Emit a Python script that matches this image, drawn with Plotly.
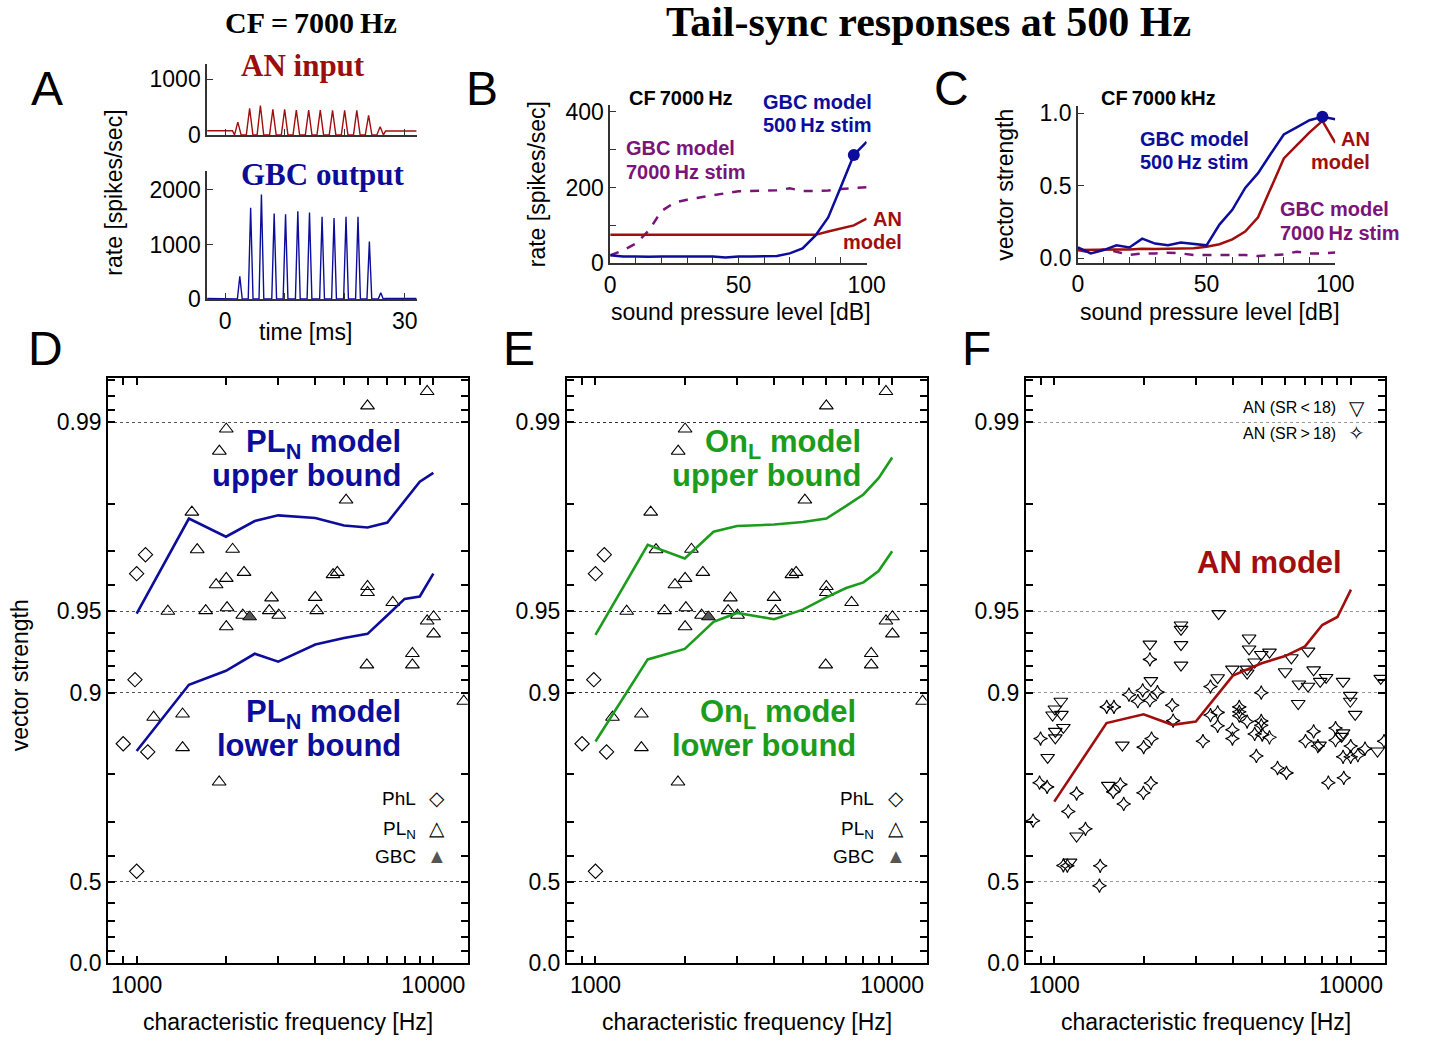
import numpy as np
import plotly.graph_objects as go

# page layout: the figure sits inside the default 8 px body margin of the html page
OX, OY = 8, 8
FW, FH = 1426, 1043
SANS = "Liberation Sans, Arial, Helvetica, sans-serif"
SERIF = "Liberation Serif, Times New Roman, serif"

RED = "#a10e0e"
BLUE = "#0d0d9c"
PURPLE = "#7a1478"
GREEN = "#1c9c1c"

# ---------------- Panel A: PSTHs, CF 7000 Hz, 500 Hz tone ----------------
time_ticks = [0, 10, 20, 30]
an_peak_t = [2.13, 4.1, 5.9, 7.98, 9.95, 11.9, 13.96, 15.9, 17.95, 19.97, 22.0, 23.97, 25.9]
an_peak_r = [230, 477, 530, 459, 459, 447, 447, 447, 441, 441, 441, 353, 147]
an_pre, an_post = 75, 70
gbc_peak_t = [2.46, 4.27, 6.07, 8.2, 10.1, 12.15, 14.1, 16.2, 18.2, 20.2, 22.2, 24.1, 26.0]
gbc_peak_r = [419, 1674, 1912, 1566, 1554, 1607, 1584, 1505, 1482, 1505, 1505, 1057, 120]
gbc_pre, gbc_post = 15, 15

# ---------------- Panel B / C: level functions ----------------
spl = [0, 5, 10, 15, 20, 25, 30, 35, 40, 45, 50, 55, 60, 65, 70, 75, 80, 85, 90, 95, 100]
rate_an = [75, 75, 75, 75, 75, 75, 75, 75, 75, 75, 75, 75, 75, 75, 75, 75, 75, 84, 92, 100, 118]
rate_gbc500 = [21, 18, 18, 17, 18, 18, 19, 20, 18, 15, 18, 18, 18, 19, 26, 39, 73, 121, 203, 286, 321]
rate_gbc7000 = [21, 34, 52, 86, 138, 160, 168, 174, 181, 185, 190, 191, 191, 193, 198, 191, 191, 192, 196, 198, 201]
vs_gbc500 = [0.074, 0.033, 0.056, 0.089, 0.074, 0.135, 0.101, 0.089, 0.108, 0.096, 0.089,
             0.232, 0.334, 0.485, 0.587, 0.723, 0.854, 0.903, 0.953, 0.976, 0.960]
vs_an = [0.056, 0.058, 0.062, 0.060, 0.060, 0.066, 0.063, 0.063, 0.063, 0.068, 0.079,
         0.096, 0.130, 0.184, 0.282, 0.485, 0.689, 0.779, 0.869, 0.948, 0.797]
vs_gbc7000 = [0.056, 0.040, 0.060, 0.045, 0.022, 0.033, 0.033, 0.038, 0.033, 0.022, 0.022,
              0.022, 0.026, 0.022, 0.015, 0.022, 0.026, 0.045, 0.033, 0.033, 0.040]
marked_level = 95

# ---------------- Panels D-F: vector strength vs CF ----------------
model_cf = [1000, 1500, 2000, 2500, 3000, 4000, 5000, 6000, 7000, 8000, 9000, 10000]
pln_upper = [0.9490, 0.9773, 0.9735, 0.9768, 0.9779, 0.9774, 0.9759, 0.9755, 0.9765, 0.9805, 0.9834, 0.9846]
pln_lower = [0.8358, 0.9065, 0.9170, 0.9282, 0.9232, 0.9336, 0.9372, 0.9394, 0.9483, 0.9550, 0.9559, 0.9637]
onl_upper = [0.9389, 0.9716, 0.9681, 0.9746, 0.9758, 0.9761, 0.9766, 0.9773, 0.9796, 0.9815, 0.9839, 0.9865]
onl_lower = [0.8485, 0.9247, 0.9311, 0.9453, 0.9493, 0.9465, 0.9507, 0.9556, 0.9590, 0.9609, 0.9645, 0.9700]
an_model = [0.7473, 0.8705, 0.8798, 0.8686, 0.8722, 0.9135, 0.9222, 0.9268, 0.9326, 0.9438, 0.9475, 0.9584]

pln_cf = [9530, 6000, 2005, 1900, 5080, 1535, 1600, 2106, 2301, 2005, 1853, 4592, 4746, 6000, 6000,
          2849, 3997, 7299, 1274, 1709, 2017, 2799, 4045, 2279, 3013, 2005, 9530, 10020, 10020,
          8500, 8500, 5970, 12665, 1141, 1428, 1428, 1897]
pln_vs = [0.9923, 0.9913, 0.9894, 0.9872, 0.9806, 0.9785, 0.9704, 0.9705, 0.9641, 0.9622, 0.9601,
          0.9634, 0.9641, 0.9595, 0.9574, 0.9554, 0.9556, 0.9536, 0.9500, 0.9503, 0.9515, 0.9503,
          0.9503, 0.9483, 0.9483, 0.9430, 0.9457, 0.9476, 0.9394, 0.9284, 0.9211, 0.9211, 0.8925,
          0.8768, 0.8801, 0.8404, 0.7862]
phl_cf = [1071, 1000, 987, 901, 1090, 1000]
phl_vs = [0.9691, 0.9637, 0.9105, 0.8456, 0.8344, 0.5429]
gbc_cf = [2404]
gbc_vs = [0.9476]

an_low_cf = [1052, 1005, 987, 1057, 1073, 1008, 1008, 950, 1696, 1521, 1189, 1130, 2100, 2116,
             2674, 2674, 2674, 2674, 3581, 3554, 3985, 4467, 4467, 4535, 4535, 4737, 4985, 5312,
             6295, 7166, 6000, 6675, 7166, 7484, 7877, 8246, 9408, 12599, 6640, 9947, 9947,
             10333, 9408, 9300, 7834, 12287]
an_low_vs = [0.8925, 0.8851, 0.8791, 0.8798, 0.8656, 0.8610, 0.8531, 0.8265, 0.8438, 0.7800,
             0.6615, 0.5771, 0.9339, 0.9098, 0.9438, 0.9417, 0.9336, 0.9209, 0.9490, 0.9120,
             0.9182, 0.9182, 0.9154, 0.9372, 0.9311, 0.9230, 0.9278, 0.9292, 0.9257, 0.9298,
             0.9163, 0.9072, 0.9054, 0.9177, 0.9092, 0.9122, 0.9092, 0.9115, 0.8904, 0.8977,
             0.8925, 0.8798, 0.8592, 0.8550, 0.8438, 0.8358]
an_high_cf = [899, 892, 946, 848, 1115, 1189, 1274, 1073, 1107, 1428, 1420, 1502, 1589, 1785,
              1912, 1986, 2001, 1580, 1670, 1714, 1997, 2100, 2227, 2100, 2497, 2516, 2127,
              2116, 3361, 3361, 3554, 3554, 3170, 3985, 3985, 4203, 4203, 4203, 4467, 4737,
              4799, 4985, 4985, 4985, 5023, 5312, 5656, 6061, 7026, 7484, 7734, 8391, 8872,
              8872, 9458, 9408, 9978, 9978, 10550, 11153, 12930]
an_high_vs = [0.8523, 0.7849, 0.7771, 0.7028, 0.7252, 0.7642, 0.6815, 0.5651, 0.5640, 0.5637,
              0.4830, 0.8872, 0.8872, 0.8983, 0.8925, 0.9019, 0.8411, 0.7675, 0.7818, 0.7422,
              0.7656, 0.9247, 0.9005, 0.8934, 0.8888, 0.8732, 0.8523, 0.7843, 0.9051, 0.8791,
              0.8818, 0.8675, 0.8489, 0.8630, 0.8523, 0.8872, 0.8824, 0.8784, 0.8722, 0.8580,
              0.8287, 0.9000, 0.8729, 0.8680, 0.8571, 0.8538, 0.8102, 0.8022, 0.8489, 0.8610,
              0.8425, 0.7849, 0.8649, 0.8502, 0.7937, 0.8274, 0.8425, 0.8274, 0.8298, 0.8391,
              0.8489]

vs_major = [0.0, 0.5, 0.9, 0.95, 0.99]
vs_major_text = ["0.0", "0.5", "0.9", "0.95", "0.99"]
vs_minor = [0.1, 0.2, 0.3, 0.4, 0.6, 0.7, 0.8, 0.91, 0.92, 0.93, 0.94, 0.96, 0.97, 0.98,
            0.991, 0.992, 0.993]
cf_major = [1000, 10000]
cf_minor = [900, 2000, 3000, 4000, 5000, 6000, 7000, 8000, 9000]


def sync_scale(v):
    """Vector strength mapped to -log10(1 - VS) so values near 1 spread out."""
    return -np.log10(1.0 - np.asarray(v, dtype=float))


def psth(peak_t, peak_r, half_width, pre, post, floor, t0, t1):
    """Period histogram outline: resting rate, one sharp peak per cycle, resting rate."""
    t = [t0, peak_t[0] - half_width - 0.35]
    r = [pre, pre]
    for pt, pr in zip(peak_t, peak_r):
        t += [pt - half_width, pt, pt + half_width]
        r += [floor, pr, floor]
    t += [peak_t[-1] + half_width + 0.35, t1]
    r += [post, post]
    return t, r


def px(x):
    return (x - OX) / FW


def py(y):
    return 1 - (y - OY) / FH


def dom_x(x0, x1):
    return [px(x0), px(x1)]


def dom_y(top, bottom):
    return [py(bottom), py(top)]


fig = go.Figure()

# ---- A
an_t, an_r = psth(an_peak_t, an_peak_r, 0.55, an_pre, an_post, 0, -3, 32)
gbc_t, gbc_r = psth(gbc_peak_t, gbc_peak_r, 0.4, gbc_pre, gbc_post, 8, -3, 32)
fig.add_trace(go.Scatter(x=an_t, y=an_r, mode="lines", line=dict(color=RED, width=1.4),
                         xaxis="x", yaxis="y", showlegend=False))
fig.add_trace(go.Scatter(x=gbc_t, y=gbc_r, mode="lines", line=dict(color=BLUE, width=1.4),
                         xaxis="x2", yaxis="y2", showlegend=False))

# ---- B
mi = spl.index(marked_level)
fig.add_trace(go.Scatter(x=spl, y=rate_gbc7000, mode="lines",
                         line=dict(color=PURPLE, width=2.5, dash="dash"),
                         xaxis="x3", yaxis="y3", showlegend=False))
fig.add_trace(go.Scatter(x=spl, y=rate_an, mode="lines", line=dict(color=RED, width=2.5),
                         xaxis="x3", yaxis="y3", showlegend=False))
fig.add_trace(go.Scatter(x=spl, y=rate_gbc500, mode="lines", line=dict(color=BLUE, width=2.5),
                         xaxis="x3", yaxis="y3", showlegend=False))
fig.add_trace(go.Scatter(x=[spl[mi]], y=[rate_gbc500[mi]], mode="markers",
                         marker=dict(color=BLUE, size=12), xaxis="x3", yaxis="y3", showlegend=False))

# ---- C
fig.add_trace(go.Scatter(x=spl, y=vs_gbc7000, mode="lines",
                         line=dict(color=PURPLE, width=2.5, dash="dash"),
                         xaxis="x4", yaxis="y4", showlegend=False))
fig.add_trace(go.Scatter(x=spl, y=vs_an, mode="lines", line=dict(color=RED, width=2.5),
                         xaxis="x4", yaxis="y4", showlegend=False))
fig.add_trace(go.Scatter(x=spl, y=vs_gbc500, mode="lines", line=dict(color=BLUE, width=2.5),
                         xaxis="x4", yaxis="y4", showlegend=False))
fig.add_trace(go.Scatter(x=[spl[mi]], y=[vs_gbc500[mi]], mode="markers",
                         marker=dict(color=BLUE, size=12), xaxis="x4", yaxis="y4", showlegend=False))


# ---- D, E: recorded units plus model bounds
def unit_scatter(ax, ay):
    fig.add_trace(go.Scatter(x=phl_cf, y=sync_scale(phl_vs), mode="markers",
                             marker=dict(symbol="diamond-open", size=11, color="black",
                                         line=dict(width=1.1)),
                             xaxis=ax, yaxis=ay, showlegend=False))
    fig.add_trace(go.Scatter(x=pln_cf, y=sync_scale(pln_vs), mode="markers",
                             marker=dict(symbol="triangle-up-open", size=12, color="black",
                                         line=dict(width=1.1)),
                             xaxis=ax, yaxis=ay, showlegend=False))
    fig.add_trace(go.Scatter(x=gbc_cf, y=sync_scale(gbc_vs), mode="markers",
                             marker=dict(symbol="triangle-up", size=12, color="#555555",
                                         line=dict(width=1, color="black")),
                             xaxis=ax, yaxis=ay, showlegend=False))


unit_scatter("x5", "y5")
for curve in (pln_upper, pln_lower):
    fig.add_trace(go.Scatter(x=model_cf, y=sync_scale(curve), mode="lines",
                             line=dict(color=BLUE, width=2.6), xaxis="x5", yaxis="y5",
                             showlegend=False))
unit_scatter("x6", "y6")
for curve in (onl_upper, onl_lower):
    fig.add_trace(go.Scatter(x=model_cf, y=sync_scale(curve), mode="lines",
                             line=dict(color=GREEN, width=2.6), xaxis="x6", yaxis="y6",
                             showlegend=False))

# ---- F: auditory nerve fibres
fig.add_trace(go.Scatter(x=an_high_cf, y=sync_scale(an_high_vs), mode="markers",
                         marker=dict(symbol="star-diamond-open", size=10, color="black",
                                     line=dict(width=1.1)),
                         xaxis="x7", yaxis="y7", showlegend=False))
fig.add_trace(go.Scatter(x=an_low_cf, y=sync_scale(an_low_vs), mode="markers",
                         marker=dict(symbol="triangle-down-open", size=12, color="black",
                                     line=dict(width=1.1)),
                         xaxis="x7", yaxis="y7", showlegend=False))
fig.add_trace(go.Scatter(x=model_cf, y=sync_scale(an_model), mode="lines",
                         line=dict(color=RED, width=2.6), xaxis="x7", yaxis="y7",
                         showlegend=False))

# ---------------- axes ----------------
tickfont = dict(family=SANS, size=23, color="black")
open_axis = dict(showline=True, linecolor="#333333", linewidth=1.6, ticks="inside",
                 ticklen=6, tickwidth=1.4, tickcolor="#333333", showgrid=False,
                 zeroline=False, tickfont=tickfont, fixedrange=True)

layout = dict(
    width=FW, height=FH, margin=dict(l=0, r=0, t=0, b=0),
    paper_bgcolor="white", plot_bgcolor="white", showlegend=False,
)

layout["xaxis"] = dict(open_axis, domain=dom_x(212.7, 426), range=[-3, 32], anchor="y",
                       tickvals=time_ticks, showticklabels=False)
layout["yaxis"] = dict(open_axis, domain=dom_y(66.7, 139.3), range=[0, 1283], anchor="x",
                       tickvals=[0, 1000], ticktext=["0", "1000"])
layout["xaxis2"] = dict(open_axis, domain=dom_x(212.7, 426), range=[-3, 32], anchor="y2",
                        tickvals=time_ticks, ticktext=["0", "", "", "30"])
layout["yaxis2"] = dict(open_axis, domain=dom_y(175.7, 306.7), range=[0, 2350], anchor="x2",
                        tickvals=[0, 1000, 2000], ticktext=["0", "1000", "2000"])

spl_ticks = [0, 10, 20, 30, 40, 50, 60, 70, 80, 90, 100]
spl_text = ["0", "", "", "", "", "50", "", "", "", "", "100"]
layout["xaxis3"] = dict(open_axis, domain=dom_x(623, 884), range=[0, 100], anchor="y3",
                        tickvals=spl_ticks, ticktext=spl_text)
layout["yaxis3"] = dict(open_axis, domain=dom_y(109.3, 270), range=[0, 417], anchor="x3",
                        tickvals=[0, 100, 200, 300, 400], ticktext=["0", "", "200", "", "400"])
layout["xaxis4"] = dict(open_axis, domain=dom_x(1099, 1361), range=[0, 100], anchor="y4",
                        tickvals=spl_ticks, ticktext=spl_text)
layout["yaxis4"] = dict(open_axis, domain=dom_y(110, 269.3), range=[-0.03, 1.05], anchor="x4",
                        tickvals=[0, 0.5, 1.0], ticktext=["0.0", "0.5", "1.0"])

box_common = dict(showline=True, linecolor="black", linewidth=2, mirror="ticks",
                  ticks="inside", ticklen=7, tickwidth=1.5, tickcolor="black",
                  zeroline=False, tickfont=tickfont, fixedrange=True)
panel_x = {5: (112, 478), 6: (579, 945), 7: (1046, 1412)}
grid_col = {5: "#555555", 6: "#333333", 7: "#999999"}
for k, (x0, x1) in panel_x.items():
    layout[f"xaxis{k}"] = dict(box_common, domain=dom_x(x0, x1), type="log",
                               range=[2.904, 4.116], anchor=f"y{k}",
                               tickvals=cf_major, ticktext=[str(v) for v in cf_major],
                               showgrid=False,
                               minor=dict(tickvals=cf_minor, ticks="inside", ticklen=7,
                                          tickwidth=1.5, tickcolor="black", showgrid=False))
    layout[f"yaxis{k}"] = dict(box_common, domain=dom_y(387, 983), range=[0, 2.163],
                               anchor=f"x{k}", tickvals=list(sync_scale(vs_major)),
                               ticktext=vs_major_text, showgrid=True, gridcolor=grid_col[k],
                               griddash="dot", gridwidth=1.2,
                               minor=dict(tickvals=list(sync_scale(vs_minor)), ticks="inside",
                                          ticklen=7, tickwidth=1.5, tickcolor="black",
                                          showgrid=False))

fig.update_layout(**layout)


# ---------------- text ----------------
def text(s, x, y, size, color="black", family=SANS, xanchor="center", angle=0):
    fig.add_annotation(text=s, x=px(x), y=py(y), xref="paper", yref="paper",
                       xanchor=xanchor, yanchor="middle", showarrow=False, textangle=angle,
                       font=dict(family=family, size=size, color=color))


# headline titles
text("<b>CF\u2009=\u20097000\u2009Hz</b>", 318, 25, 30, family=SERIF)
text("<b>Tail-sync responses at 500 Hz</b>", 947, 24, 42, family=SERIF)

# panel letters
for letter, lx, ly in [("A", 50, 92), ("B", 492, 92), ("C", 970, 92),
                       ("D", 48, 357), ("E", 530, 357), ("F", 996, 357)]:
    text(letter, lx, ly, 48)

# A
text("<b>AN input</b>", 310, 69, 31, color="#9c0d0d", family=SERIF)
text("<b>GBC output</b>", 330, 180, 31, color="#0c0c96", family=SERIF)
text("rate [spikes/sec]", 117, 198, 23, angle=-90)
text("time [ms]", 313, 340, 23)

# B
text("<b>CF\u20097000\u2009Hz</b>", 695, 102, 20)
text("<b>GBC model</b>", 776, 106, 20, color=BLUE, xanchor="left")
text("<b>500\u2009Hz stim</b>", 776, 129, 20, color=BLUE, xanchor="left")
text("<b>GBC model</b>", 637, 153, 20, color=PURPLE, xanchor="left")
text("<b>7000\u2009Hz stim</b>", 637, 177, 20, color=PURPLE, xanchor="left")
text("<b>AN</b>", 922, 225, 20, color=RED, xanchor="right")
text("<b>model</b>", 922, 248, 20, color=RED, xanchor="right")
text("rate [spikes/sec]", 548, 190, 23, angle=-90)
text("sound pressure level [dB]", 756, 320, 23)

# C
text("<b>CF\u20097000\u2009kHz</b>", 1181, 102, 20)
text("<b>GBC model</b>", 1160, 143, 20, color=BLUE, xanchor="left")
text("<b>500\u2009Hz stim</b>", 1160, 167, 20, color=BLUE, xanchor="left")
text("<b>AN</b>", 1398, 143, 20, color=RED, xanchor="right")
text("<b>model</b>", 1398, 167, 20, color=RED, xanchor="right")
text("<b>GBC model</b>", 1303, 215, 20, color=PURPLE, xanchor="left")
text("<b>7000\u2009Hz stim</b>", 1303, 239, 20, color=PURPLE, xanchor="left")
text("vector strength", 1025, 190, 23, angle=-90)
text("sound pressure level [dB]", 1233, 320, 23)

# D-F
text("vector strength", 22, 690, 23, angle=-90)
for cx in (295, 762, 1229):
    text("characteristic frequency [Hz]", cx, 1043, 23)

text("<b>PL<sub>N</sub> model</b>", 412, 454, 31, color=BLUE, xanchor="right")
text("<b>upper bound</b>", 412, 486, 31, color=BLUE, xanchor="right")
text("<b>PL<sub>N</sub> model</b>", 412, 729, 31, color=BLUE, xanchor="right")
text("<b>lower bound</b>", 412, 761, 31, color=BLUE, xanchor="right")
text("<b>On<sub>L</sub> model</b>", 880, 454, 31, color=GREEN, xanchor="right")
text("<b>upper bound</b>", 880, 486, 31, color=GREEN, xanchor="right")
text("<b>On<sub>L</sub> model</b>", 875, 729, 31, color=GREEN, xanchor="right")
text("<b>lower bound</b>", 875, 761, 31, color=GREEN, xanchor="right")
text("<b>AN model</b>", 1370, 575, 31, color=RED, xanchor="right")

# legends of the unit classes
for off in (0, 467):
    text("PhL", 427 + off, 815, 19, xanchor="right")
    text("PL<sub>N</sub>", 427 + off, 847, 19, xanchor="right")
    text("GBC", 427 + off, 874, 19, xanchor="right")
    text("\u25C7", 447 + off, 815, 20)
    text("\u25B3", 447 + off, 845, 20)
    text("\u25B2", 447 + off, 874, 20, color="#555555")
text("AN (SR\u2009&lt;\u200918)", 1364, 417, 16, xanchor="right")
text("AN (SR\u2009&gt;\u200918)", 1364, 443, 16, xanchor="right")
text("\u25BD", 1383, 417, 20)
text("\u2727", 1383, 443, 20)

fig.write_html("out.html")
